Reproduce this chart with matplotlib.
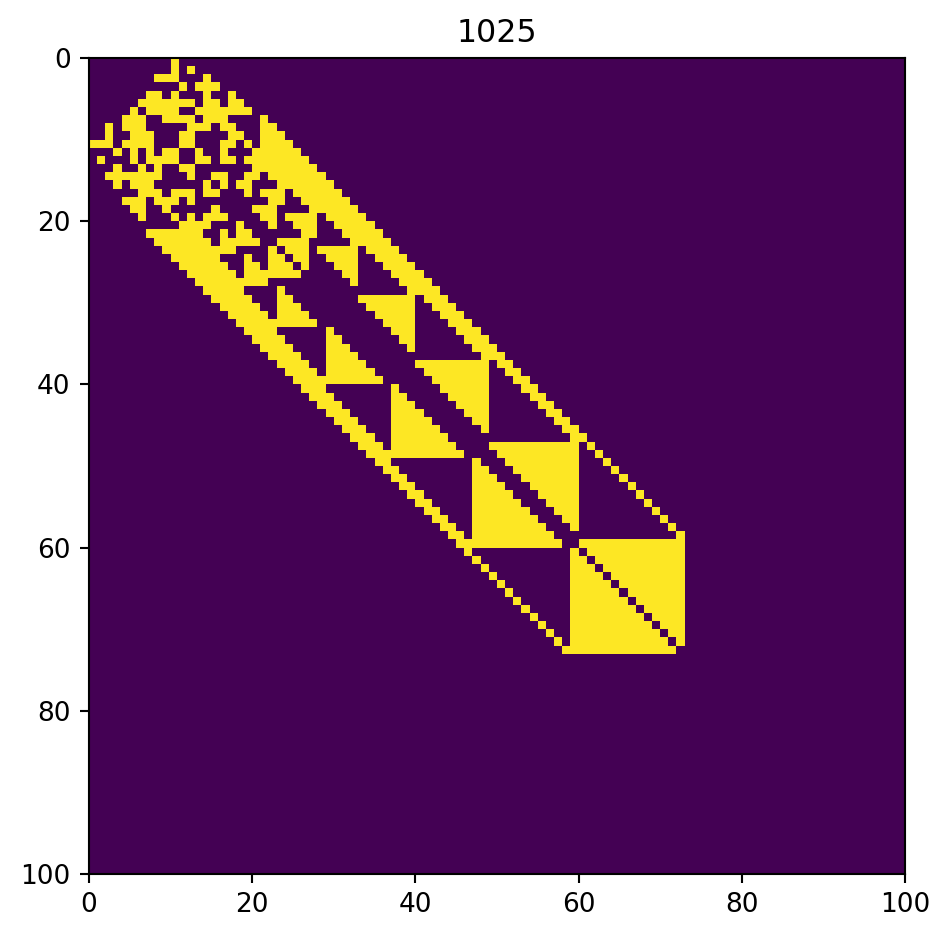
import numpy as np
import matplotlib
matplotlib.use("Agg")
import matplotlib.pyplot as plt

title = "1025"
ticks = [0, 20, 40, 60, 80, 100]
grid_size = 100

#yellow runs per row, (first col, last col), row number = position in list
rows_top = [
    [(10, 10)],
    [(10, 10), (12, 12)],
    [(8, 10), (14, 14)],
    [(11, 11), (13, 15)],
    [(7, 8), (10, 10), (14, 14), (17, 17)],
    [(6, 12), (14, 15), (17, 18)],
    [(5, 5), (7, 10), (13, 19)],
    [(4, 6), (9, 12), (14, 16), (21, 21)],
    [(2, 2), (4, 6), (12, 14), (16, 17), (21, 22)],
    [(2, 2), (5, 7), (11, 12), (17, 18), (21, 23)],
    [(0, 2), (4, 7), (11, 12), (16, 17), (19, 19), (21, 24)],
    [(3, 3), (5, 5), (7, 7), (9, 10), (13, 13), (16, 16), (20, 25)],
    [(1, 1), (5, 5), (7, 10), (13, 14), (16, 17), (19, 26)],
    [(3, 3), (6, 6), (8, 8), (11, 12), (20, 27)],
    [(2, 8), (12, 12), (15, 16), (19, 20), (22, 28)],
    [(3, 3), (5, 7), (14, 14), (16, 16), (18, 19), (23, 29)],
    [(6, 8), (10, 12), (14, 15), (19, 19), (21, 23), (25, 30)],
    [(4, 6), (8, 10), (12, 12), (22, 23), (26, 31)],
    [(5, 6), (9, 9), (15, 15), (20, 22), (27, 32)],
    [(6, 6), (10, 10), (12, 12), (14, 16), (21, 22), (24, 27), (29, 33)],
    [(11, 14), (18, 18), (22, 22), (25, 27), (30, 34)],
    [(7, 13), (16, 16), (18, 19), (26, 27), (31, 35)],
    [(8, 14), (16, 20), (23, 26), (32, 36)],
    [(9, 17), (22, 22), (24, 26), (28, 32), (34, 37)],
]

rows_middle = [
    [(10, 15), (19, 19), (22, 23), (25, 26), (29, 32), (35, 38)],
    [(11, 16), (19, 20), (22, 24), (26, 26), (30, 32), (36, 39)],
    [(12, 17), (19, 25), (31, 32), (37, 40)],
    [(13, 21), (32, 32), (38, 41)],
    [(14, 18), (23, 23), (39, 42)],
    [(15, 19), (23, 24), (33, 39), (41, 43)],
    [(16, 20), (23, 25), (34, 39), (42, 44)],
    [(17, 21), (23, 26), (35, 39), (43, 45)],
    [(18, 27), (36, 39), (44, 46)],
    [(19, 22), (29, 29), (37, 39), (45, 47)],
    [(20, 23), (29, 30), (38, 39), (46, 48)],
    [(21, 24), (29, 31), (39, 39), (47, 49)],
    [(22, 25), (29, 32), (48, 50)],
    [(23, 26), (29, 33), (40, 48), (50, 51)],
    [(24, 27), (29, 34), (41, 48), (51, 52)],
    [(25, 35), (42, 48), (52, 53)],
    [(26, 28), (37, 37), (43, 48), (53, 54)],
    [(27, 29), (37, 38), (44, 48), (54, 55)],
    [(28, 30), (37, 39), (45, 48), (55, 56)],
    [(29, 31), (37, 40), (46, 48), (56, 57)],
    [(30, 32), (37, 41), (47, 48), (57, 58)],
    [(31, 33), (37, 42), (48, 48), (58, 59)],
    [(32, 34), (37, 43), (59, 60)],
    [(33, 35), (37, 44), (49, 59), (61, 61)],
    [(34, 45), (50, 59), (62, 62)],
]

rows_bottom = [
    [(35, 36), (47, 47), (51, 59), (63, 63)],
    [(36, 37), (47, 48), (52, 59), (64, 64)],
    [(37, 38), (47, 49), (53, 59), (65, 65)],
    [(38, 39), (47, 50), (54, 59), (66, 66)],
    [(39, 40), (47, 51), (55, 59), (67, 67)],
    [(40, 41), (47, 52), (56, 59), (68, 68)],
    [(41, 42), (47, 53), (57, 59), (69, 69)],
    [(42, 43), (47, 54), (58, 59), (70, 70)],
    [(43, 44), (47, 55), (59, 59), (71, 71)],
    [(44, 45), (47, 56), (72, 72)],
    [(45, 57), (60, 72)],
    [(46, 46), (59, 59), (61, 72)],
    [(47, 47), (59, 60), (62, 72)],
    [(48, 48), (59, 61), (63, 72)],
    [(49, 49), (59, 62), (64, 72)],
    [(50, 50), (59, 63), (65, 72)],
    [(51, 51), (59, 64), (66, 72)],
    [(52, 52), (59, 65), (67, 72)],
    [(53, 53), (59, 66), (68, 72)],
    [(54, 54), (59, 67), (69, 72)],
    [(55, 55), (59, 68), (70, 72)],
    [(56, 56), (59, 69), (71, 72)],
    [(57, 57), (59, 70), (72, 72)],
    [(58, 71)],
]

#fill the grid from the runs
grid = np.zeros((grid_size, grid_size))
for r, runs in enumerate(rows_top + rows_middle + rows_bottom):
    for first, last in runs:
        grid[r, first:last + 1] = 1

W, H = 949, 938
DPI = 190
fig = plt.figure(figsize=(W / DPI, H / DPI), dpi=DPI)
ax = fig.add_axes([89 / W, 1 - 874 / H, 816 / W, 816 / H])
ax.imshow(grid, cmap="viridis", extent=(0, grid_size, grid_size, 0), interpolation="nearest")
ax.set_xticks(ticks)
ax.set_yticks(ticks)
ax.set_title(title)

fig.savefig("out.png", dpi=DPI)
